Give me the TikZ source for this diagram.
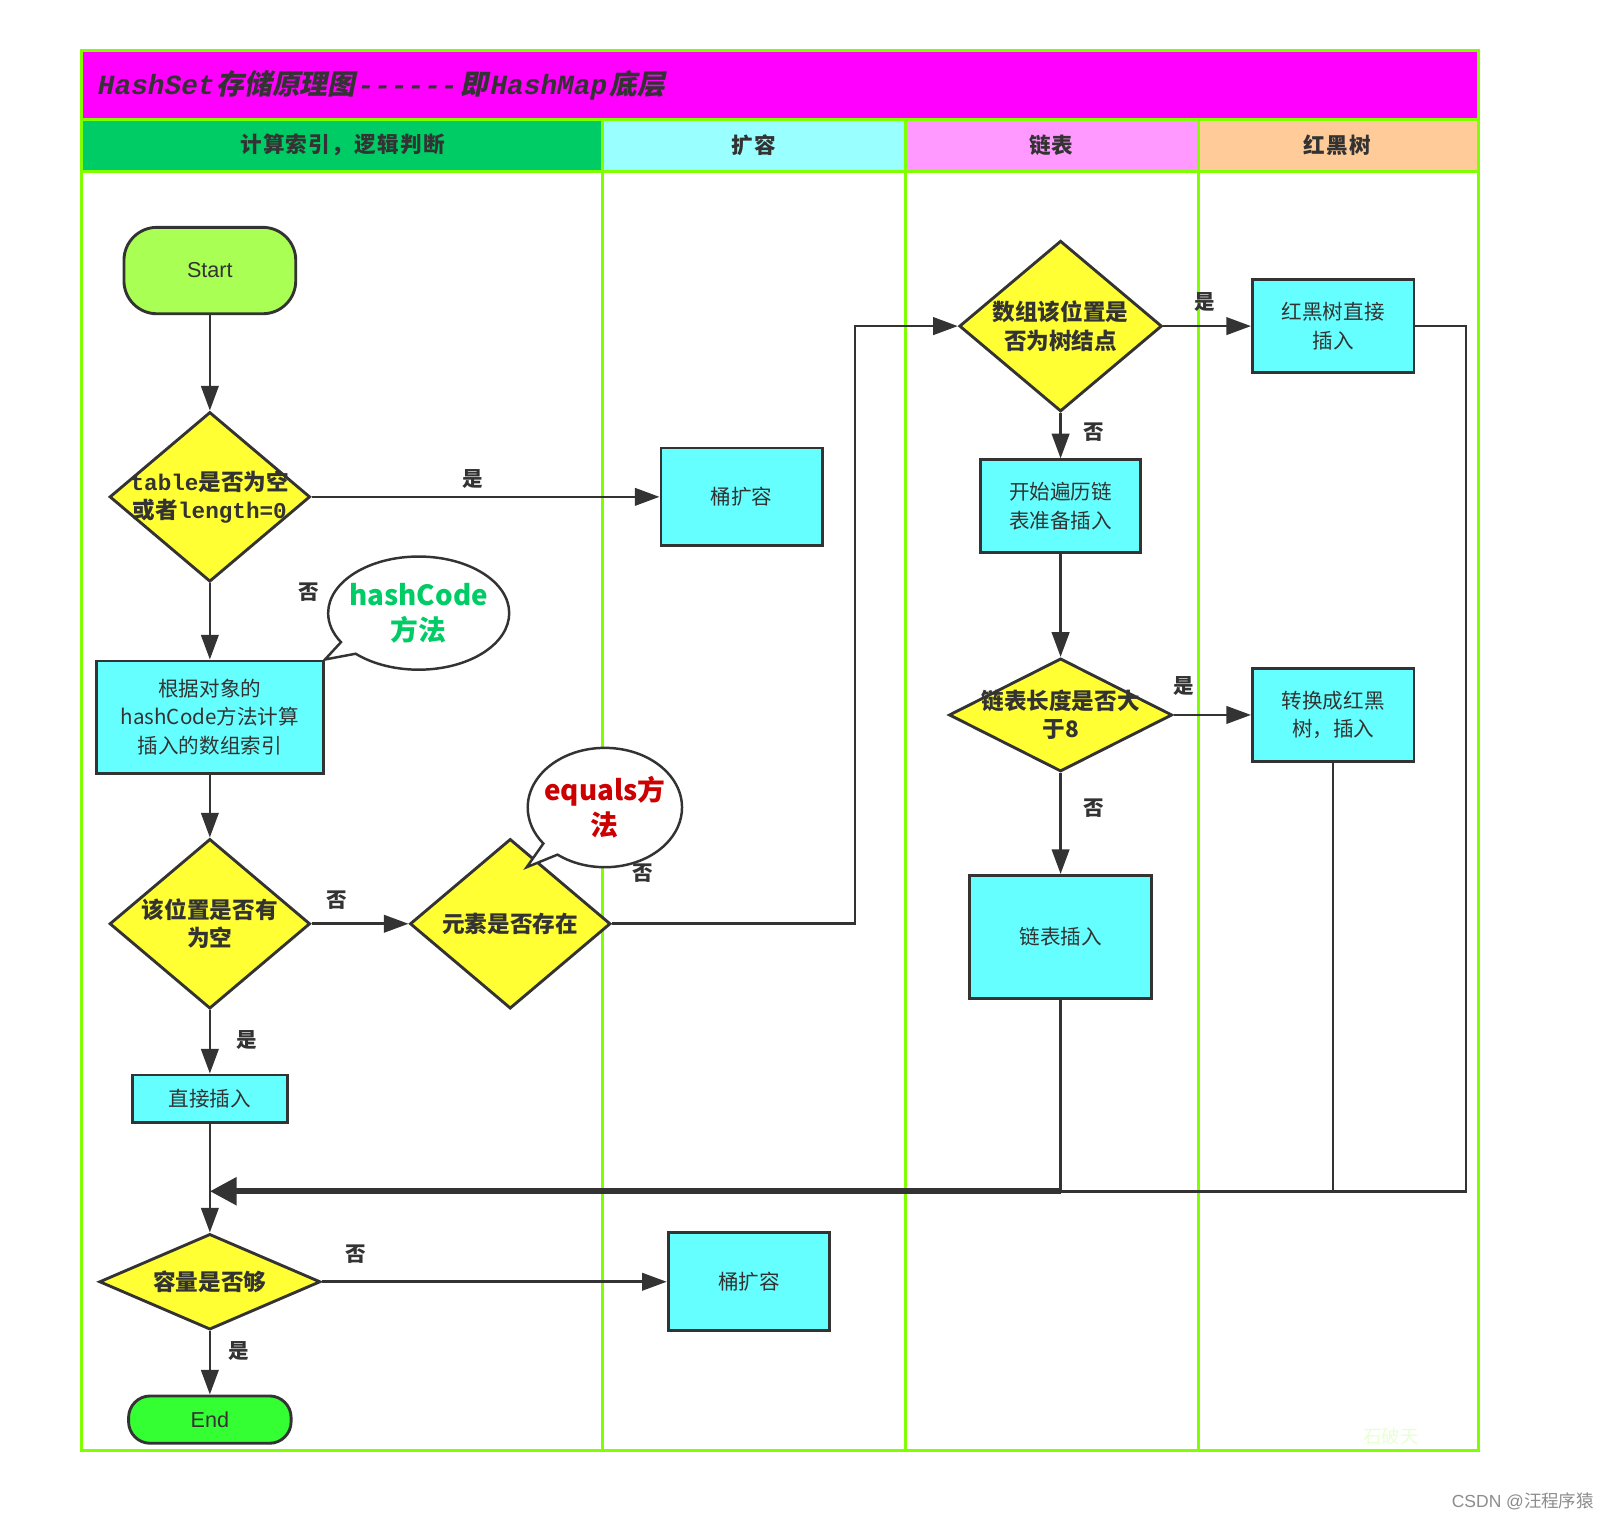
\documentclass[tikz,border=0pt]{standalone}
\usepackage{fontspec}
\setmainfont{Noto Sans CJK SC}
\newfontfamily\cjkslant{Noto Sans CJK SC}[FakeSlant=0.2]
\newfontfamily\headfont{Noto Sans CJK SC}[LetterSpace=6]
\newfontfamily\codefont{Liberation Mono}
\newfontfamily\arialfont{Liberation Sans}
\usetikzlibrary{shapes.geometric,shapes.callouts,arrows.meta}
\definecolor{lanegreen}{HTML}{80FF00}
\definecolor{titlemag}{HTML}{FF00FF}
\definecolor{headgreen}{HTML}{00CC66}
\definecolor{headcyan}{HTML}{99FFFF}
\definecolor{headpink}{HTML}{FF99FF}
\definecolor{headpeach}{HTML}{FFCC99}
\definecolor{boxcyan}{HTML}{66FFFF}
\definecolor{decyellow}{HTML}{FFFF33}
\definecolor{startgreen}{HTML}{AAFF55}
\definecolor{endgreen}{HTML}{33FF33}
\definecolor{ink}{HTML}{333333}
\definecolor{codered}{HTML}{CC0000}
\newcommand{\codetext}[1]{{\codefont\bfseries #1}}
\newcommand{\slanttitle}[1]{{\codefont\bfseries\itshape #1}}

\begin{document}
\begin{tikzpicture}[
    x=1pt, y=-1pt,
    lane/.style={draw=lanegreen, line width=3pt},
    headcell/.style={rectangle, inner sep=0pt, text=ink, font=\headfont\fontsize{21}{26}\selectfont\bfseries},
    process/.style={rectangle, draw=ink, line width=2.8pt, fill=boxcyan, align=center, inner sep=0pt, text=ink, font=\fontsize{20}{27.5}\selectfont},
    decision/.style={diamond, draw=ink, line width=2.8pt, fill=decyellow, inner sep=0pt},
    dtext/.style={align=center, inner sep=0pt, text=ink, font=\fontsize{22}{27.5}\selectfont\bfseries},
    terminal/.style={rectangle, draw=ink, line width=2.8pt, text=ink, font=\arialfont\fontsize{21}{25}\selectfont},
    bubble/.style={ellipse callout, draw=ink, line width=2.4pt, fill=white, align=center, inner sep=-8pt, font=\fontsize{27}{34}\selectfont\bfseries},
    yesno/.style={inner sep=0pt, text=ink, font=\fontsize{20}{24}\selectfont\bfseries},
    flow/.style={draw=ink, line width=2.5pt, -{Triangle[length=24pt,width=17pt]}},
    wire/.style={draw=ink, line width=2.5pt},
    mergeflow/.style={draw=ink, line width=6pt, -{Triangle[length=26pt,width=26pt]}}
]
\useasboundingbox (0,0) rectangle (1568,1477);

\fill[titlemag] (79,49) rectangle (1437,116);
\fill[headgreen] (79,116) rectangle (586,167);
\fill[headcyan] (586,116) rectangle (880,167);
\fill[headpink] (880,116) rectangle (1165,167);
\fill[headpeach] (1165,116) rectangle (1437,167);
\draw[lane] (79,49) rectangle (1437,1410);
\draw[lane] (79,116) -- (1437,116);
\draw[lane] (79,167) -- (1437,167);
\foreach \x in {586,880,1165}
    \draw[lane] (\x,116) -- (\x,1410);

\node[anchor=west, inner sep=0pt, text=ink, font=\fontsize{27}{30}\selectfont] (title) at (95,83)
    {\slanttitle{HashSet}\kern2pt{\cjkslant\bfseries 存储原理图}\kern2pt\slanttitle{------}\kern3pt{\cjkslant\bfseries 即}\kern2pt\slanttitle{HashMap}\kern2pt{\cjkslant\bfseries 底层}};
\node[headcell] (hcalc) at (333,141) {计算索引，逻辑判断};
\node[headcell] (hgrow) at (733,141) {扩容};
\node[headcell] (hlist) at (1022,141) {链表};
\node[headcell] (htree) at (1300,141) {红黑树};

\node[terminal, fill=startgreen, rounded corners=32pt, minimum width=167pt, minimum height=84pt] (start) at (204,263) {Start};
\node[decision, minimum width=195pt, minimum height=165pt,
    label={[dtext]center:\codetext{table}是否为空\\或者\codetext{length=0}}] (isempty) at (204,483) {};
\node[process, minimum width=157pt, minimum height=95pt] (bucket1) at (721,483) {桶扩容};
\node[process, minimum width=221pt, minimum height=109pt] (cidx) at (204,697) {根据对象的\\hashCode方法计算\\插入的数组索引};
\node[bubble, text=headgreen, minimum width=176pt, minimum height=110pt,
    callout absolute pointer={(cidx.north east)}] (hashbub) at (407,596) {hashCode\\方法};
\node[decision, minimum width=195pt, minimum height=165pt,
    label={[dtext]center:该位置是否有\\为空}] (slot) at (204,898) {};
\node[decision, minimum width=195pt, minimum height=165pt,
    label={[dtext]center:元素是否存在}] (exists) at (496,898) {};
\coordinate (eqtip) at (512,843);
\node[bubble, text=codered, minimum width=150pt, minimum height=116pt,
    callout absolute pointer={(eqtip)}] (eqbub) at (588,785) {equals方\\法};
\node[process, minimum width=151pt, minimum height=46pt] (direct) at (204,1068) {直接插入};
\node[decision, minimum width=215pt, minimum height=93pt,
    label={[dtext]center:容量是否够}] (capacity) at (204,1246) {};
\node[process, minimum width=157pt, minimum height=95pt] (bucket2) at (728,1246) {桶扩容};
\node[terminal, fill=endgreen, rounded corners=21pt, minimum width=158pt, minimum height=46pt] (finish) at (204,1380) {End};

\node[decision, minimum width=197pt, minimum height=166pt,
    label={[dtext]center:数组该位置是\\否为树结点}] (istree) at (1031,317) {};
\node[process, minimum width=157pt, minimum height=91pt] (rbdirect) at (1296,317) {红黑树直接\\插入};
\node[process, minimum width=156pt, minimum height=90pt] (traverse) at (1031,492) {开始遍历链\\表准备插入};
\node[decision, minimum width=217pt, minimum height=110pt,
    label={[dtext]center:链表长度是否大\\于8}] (longlist) at (1031,695) {};
\node[process, minimum width=157pt, minimum height=90pt] (convert) at (1296,695) {转换成红黑\\树，插入};
\node[process, minimum width=177pt, minimum height=120pt] (listins) at (1031,911) {链表插入};

\node[yesno] (yes1) at (460,466) {是};
\node[yesno] (no1) at (300,576) {否};
\node[yesno] (no2) at (327,875) {否};
\node[yesno] (no3) at (625,849) {否};
\node[yesno] (yes2) at (240,1011) {是};
\node[yesno] (no6) at (346,1219) {否};
\node[yesno] (yes5) at (232,1313) {是};
\node[yesno] (yes3) at (1171,294) {是};
\node[yesno] (no4) at (1063,420) {否};
\node[yesno] (yes4) at (1151,667) {是};
\node[yesno] (no5) at (1063,786) {否};

\node[text=lanegreen!18, font=\fontsize{18}{20}\selectfont] (mark) at (1352,1396) {石破天};
\node[anchor=east, text=black!45, font=\arialfont\fontsize{17}{20}\selectfont] (csdn) at (1553,1459) {CSDN @{\rmfamily 汪程序猿}};

\coordinate (jog) at (831,600);
\coordinate (back) at (1425,1158);
\coordinate (merge) at (204,1158);

\draw[flow] (start) -- (isempty);
\draw[flow] (isempty) -- (bucket1);
\draw[flow] (isempty) -- (cidx);
\draw[flow] (cidx) -- (slot);
\draw[flow] (slot) -- (exists);
\draw[flow] (slot) -- (direct);
\draw[flow] (direct) -- (capacity);
\draw[flow] (capacity) -- (bucket2);
\draw[flow] (capacity) -- (finish);
\draw[flow] (exists.east) -| (jog) |- (istree.west);
\draw[flow] (istree) -- (rbdirect);
\draw[flow] (istree) -- (traverse);
\draw[flow] (traverse) -- (longlist);
\draw[flow] (longlist) -- (convert);
\draw[flow] (longlist) -- (listins);
\draw[wire] (rbdirect.east) -| (back) -- (convert |- back);
\draw[wire] (convert) -- (convert |- back) -- (listins |- back);
\draw[wire] (listins) -- (listins |- back);
\draw[mergeflow] (listins |- back) -- (merge);
\end{tikzpicture}
\end{document}
